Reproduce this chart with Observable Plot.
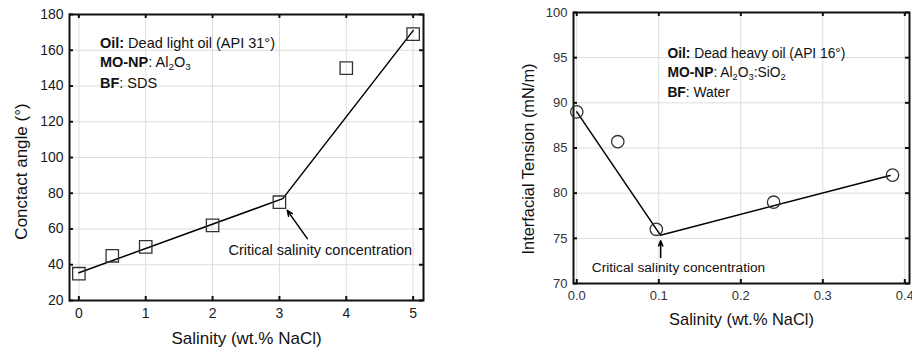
<!DOCTYPE html>
<html><head><meta charset="utf-8">
<script src="https://cdn.jsdelivr.net/npm/d3@7"></script>
<script src="https://cdn.jsdelivr.net/npm/@observablehq/plot@0.6"></script>
<style>
body{margin:0;background:#fff}
#wrap{display:flex;width:912px;height:355px;overflow:hidden}
#wrap svg{flex:none;overflow:visible}
</style>
</head><body><div id="wrap"></div>
<script>
// ---------- Left chart: contact angle ----------
const caSalinity = [0, 0.5, 1, 2, 3, 4, 5];
const caAngle = [35, 45, 50, 62, 75, 150, 169];
const caFitX = [0, 3.05, 5];
const caFitY = [35.5, 77, 171];
const caXTicks = [0, 1, 2, 3, 4, 5];
const caYTicks = [20, 40, 60, 80, 100, 120, 140, 160, 180];
const caXTitle = "Salinity (wt.% NaCl)";
const caYTitle = "Conctact angle (°)";
const caNoteBold = ["Oil:", "MO-NP", "BF"];
const caNoteRest = [" Dead light oil (API 31°)", ": Al₂O₃", ": SDS"];
const caNoteX = [0.315, 0.315, 0.315];
const caNoteY = [164, 153, 141.7];
const caCritText = ["Critical salinity concentration"];
const caCritX = [2.237];
const caCritY = [48];
const caArrowFrom = [3.417, 54.6];
const caArrowTo = [3.117, 70.4];

// ---------- Right chart: interfacial tension ----------
const iftSalinity = [0, 0.05, 0.097, 0.24, 0.385];
const iftValue = [89, 85.7, 76, 79, 82];
const iftFitX = [0, 0.102, 0.382];
const iftFitY = [89, 75.35, 81.95];
const iftXTicks = [0, 0.1, 0.2, 0.3, 0.4];
const iftYTicks = [70, 75, 80, 85, 90, 95, 100];
const iftXTitle = "Salinity (wt.% NaCl)";
const iftYTitle = "Interfacial Tension (mN/m)";
const iftNoteBold = ["Oil:", "MO-NP", "BF"];
const iftNoteRest = [" Dead heavy oil (API 16°)", ": Al₂O₃:SiO₂", ": Water"];
const iftNoteX = [0.1105, 0.1105, 0.1105];
const iftNoteY = [95.45, 93.3, 91.08];
const iftCritText = ["Critical salinity concentration"];
const iftCritX = [0.0183];
const iftCritY = [71.75];
const iftArrowFrom = [0.1023, 72.87];
const iftArrowTo = [0.1023, 74.73];

const FONT = "'Liberation Sans', Arial, Helvetica, sans-serif";

function makeChart(c) {
  const plotW = c.width - c.ml - c.mr;
  const plotH = c.height - c.mt - c.mb;
  const idx = c.px.map((_, i) => i);
  const fidx = c.fx.map((_, i) => i);
  const nidx = c.noteBold.map((_, i) => i);
  const notes = nidx.map(i => c.noteBold[i] + c.noteRest[i]);
  const svg = Plot.plot({
    width: c.width, height: c.height,
    marginLeft: c.ml, marginRight: c.mr, marginTop: c.mt, marginBottom: c.mb,
    style: {fontFamily: FONT, background: "#fff", overflow: "visible"},
    x: {domain: c.xDomain},
    y: {domain: c.yDomain},
    marks: [
      Plot.gridX(c.xTicks, {stroke: "#dcdcdc", strokeOpacity: 1, strokeWidth: 1}),
      Plot.gridY(c.yTicks, {stroke: "#dcdcdc", strokeOpacity: 1, strokeWidth: 1}),
      Plot.axisX(c.xTicks, {tickSize: 0, tickPadding: c.xPad, fontSize: c.tickFs, fill: c.tickColor, tickFormat: c.xFmt, label: null}),
      Plot.axisY(c.yTicks, {tickSize: 0, tickPadding: 6, fontSize: c.tickFs, fill: c.tickColor, label: null}),
      // inward ticks on all four sides
      Plot.tickX(c.xTicks, {x: d => d, insetTop: plotH - 4, stroke: "#111", strokeWidth: 2}),
      Plot.tickX(c.xTicks, {x: d => d, insetBottom: plotH - 4, stroke: "#111", strokeWidth: 2}),
      Plot.tickY(c.yTicks, {y: d => d, insetRight: plotW - 4, stroke: "#111", strokeWidth: 2}),
      Plot.tickY(c.yTicks, {y: d => d, insetLeft: plotW - 4, stroke: "#111", strokeWidth: 2}),
      Plot.frame({stroke: "#111", strokeWidth: 2}),
      Plot.line(fidx, {x: i => c.fx[i], y: i => c.fy[i], stroke: "#000", strokeWidth: 1.5}),
      Plot.dot(idx, {x: i => c.px[i], y: i => c.py[i], symbol: c.symbol, r: c.r, stroke: "#333", strokeWidth: 1.3, fill: "none"}),
      Plot.arrow([0], {x1: () => c.arrowFrom[0], y1: () => c.arrowFrom[1], x2: () => c.arrowTo[0], y2: () => c.arrowTo[1],
        stroke: "#000", strokeWidth: 1.5, headLength: 6, headAngle: 45}),
      Plot.text(c.critText, {x: () => c.critX[0], y: () => c.critY[0], text: d => d, textAnchor: "start", fontSize: c.critFs, fill: "#111"}),
      Plot.text(nidx, {x: i => c.noteX[i], y: i => c.noteY[i], text: i => notes[i], textAnchor: "start", fontSize: c.noteFs, fill: "#111"}),
      Plot.text([c.xTitle], {frameAnchor: "bottom", dy: c.xTitleDy, text: d => d, textAnchor: "middle", fontSize: c.titleFs, fill: "#111"}),
      Plot.text([c.yTitle], {frameAnchor: "left", rotate: -90, dx: c.yTitleDx, dy: c.yTitleDy, text: d => d, textAnchor: "middle", fontSize: c.titleFs, fill: "#111"})
    ]
  });
  // rich text for annotation lines: bold prefix and subscripts
  d3.select(svg).selectAll("text").each(function () {
    const k = notes.indexOf(this.textContent);
    if (k < 0) return;
    const el = d3.select(this);
    el.selectAll("*").remove();
    el.text(null);
    el.append("tspan").attr("font-weight", "bold").text(c.noteBold[k]);
    const parts = c.noteRest[k].split(/([₀-₉]+)/);
    let shifted = false;
    for (const p of parts) {
      if (!p) continue;
      if (/^[₀-₉]+$/.test(p)) {
        const digits = [...p].map(ch => String.fromCharCode(ch.charCodeAt(0) - 0x2080 + 48)).join("");
        el.append("tspan").attr("font-size", c.noteFs * 0.68).attr("dy", 3).text(digits);
        shifted = true;
      } else {
        const t = el.append("tspan").text(p);
        if (shifted) { t.attr("dy", -3); shifted = false; }
      }
    }
  });
  return svg;
}

const wrap = document.getElementById("wrap");
wrap.appendChild(makeChart({
  width: 456, height: 355, ml: 69, mr: 33, mt: 14, mb: 55,
  xDomain: [-0.14, 5.155], yDomain: [20, 180],
  xTicks: caXTicks, yTicks: caYTicks, xFmt: d3.format("d"), xPad: 8,
  tickFs: 14, tickColor: "#1a1a1a", titleFs: 17, noteFs: 14.5, critFs: 14.5,
  px: caSalinity, py: caAngle, fx: caFitX, fy: caFitY, symbol: "square", r: 7,
  arrowFrom: caArrowFrom, arrowTo: caArrowTo,
  critText: caCritText, critX: caCritX, critY: caCritY,
  noteBold: caNoteBold, noteRest: caNoteRest, noteX: caNoteX, noteY: caNoteY,
  xTitle: caXTitle, yTitle: caYTitle, xTitleDy: 43, yTitleDx: -48, yTitleDy: 14
}));
wrap.appendChild(makeChart({
  width: 456, height: 355, ml: 117, mr: 3, mt: 12, mb: 72,
  xDomain: [-0.004, 0.4057], yDomain: [70, 100],
  xTicks: iftXTicks, yTicks: iftYTicks, xFmt: d3.format(".1f"), xPad: 7,
  tickFs: 13, tickColor: "#333", titleFs: 16.4, noteFs: 13.8, critFs: 13.7,
  px: iftSalinity, py: iftValue, fx: iftFitX, fy: iftFitY, symbol: "circle", r: 6.2,
  arrowFrom: iftArrowFrom, arrowTo: iftArrowTo,
  critText: iftCritText, critX: iftCritX, critY: iftCritY,
  noteBold: iftNoteBold, noteRest: iftNoteRest, noteX: iftNoteX, noteY: iftNoteY,
  xTitle: iftXTitle, yTitle: iftYTitle, xTitleDy: 41, yTitleDx: -45, yTitleDy: 11
}));
</script>
</body></html>
